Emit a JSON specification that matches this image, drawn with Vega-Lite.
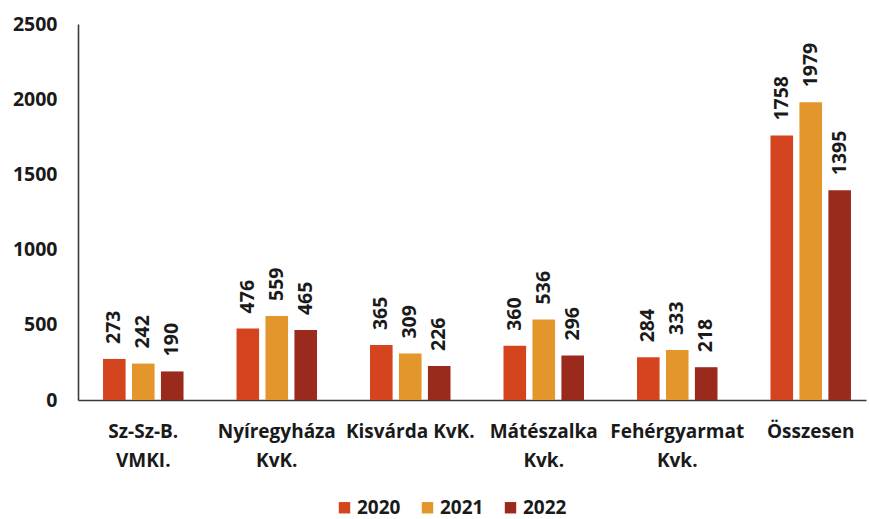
{
  "$schema": "https://vega.github.io/schema/vega-lite/v6.json",
  "width": 788,
  "height": 376,
  "autosize": {"type": "none"},
  "padding": {"left": 78, "top": 24, "right": 3, "bottom": 119},
  "background": "white",
  "config": {
    "view": {"stroke": null},
    "font": "Open Sans",
    "axis": {"grid": false, "ticks": false, "domainColor": "#3a3a3a", "domainWidth": 1.6, "labelFont": "Open Sans", "labelFontWeight": "bold", "labelFontSize": 19, "labelColor": "#1a1a1a", "title": null}
  },
  "data": {
    "values": [
      {"cat": "Sz-Sz-B.\nVMKI.", "year": "2020", "v": 273},
      {"cat": "Sz-Sz-B.\nVMKI.", "year": "2021", "v": 242},
      {"cat": "Sz-Sz-B.\nVMKI.", "year": "2022", "v": 190},
      {"cat": "Nyíregyháza\nKvK.", "year": "2020", "v": 476},
      {"cat": "Nyíregyháza\nKvK.", "year": "2021", "v": 559},
      {"cat": "Nyíregyháza\nKvK.", "year": "2022", "v": 465},
      {"cat": "Kisvárda KvK.", "year": "2020", "v": 365},
      {"cat": "Kisvárda KvK.", "year": "2021", "v": 309},
      {"cat": "Kisvárda KvK.", "year": "2022", "v": 226},
      {"cat": "Mátészalka\nKvk.", "year": "2020", "v": 360},
      {"cat": "Mátészalka\nKvk.", "year": "2021", "v": 536},
      {"cat": "Mátészalka\nKvk.", "year": "2022", "v": 296},
      {"cat": "Fehérgyarmat\nKvk.", "year": "2020", "v": 284},
      {"cat": "Fehérgyarmat\nKvk.", "year": "2021", "v": 333},
      {"cat": "Fehérgyarmat\nKvk.", "year": "2022", "v": 218},
      {"cat": "Összesen", "year": "2020", "v": 1758},
      {"cat": "Összesen", "year": "2021", "v": 1979},
      {"cat": "Összesen", "year": "2022", "v": 1395}
    ]
  },
  "encoding": {
    "x": {
      "field": "cat", "type": "nominal", "sort": null,
      "scale": {"paddingInner": 0.397, "paddingOuter": 0.15, "align": 0.625},
      "axis": {"labelAngle": 0, "labelPadding": 22, "labelLineHeight": 29, "labelExpr": "split(datum.label, '\\n')", "labelBaseline": "top"}
    },
    "xOffset": {"field": "year", "type": "nominal", "scale": {"paddingInner": 0.22, "paddingOuter": 0}},
    "y": {
      "field": "v", "type": "quantitative",
      "scale": {"domain": [0, 2500], "nice": false},
      "axis": {"values": [0, 500, 1000, 1500, 2000, 2500], "format": "d", "labelPadding": 21, "labelFontSize": 19.5}
    }
  },
  "layer": [
    {
      "mark": {"type": "bar"},
      "encoding": {
        "color": {
          "field": "year", "type": "nominal",
          "scale": {"domain": ["2020", "2021", "2022"], "range": ["#D4441F", "#E3962B", "#9A2A1C"]},
          "legend": {
            "orient": "none", "legendX": 257, "legendY": 474, "direction": "horizontal",
            "title": null, "symbolType": "square", "symbolSize": 130, "symbolStrokeWidth": 0,
            "labelFont": "Open Sans", "labelFontWeight": "bold", "labelFontSize": 19, "labelColor": "#1a1a1a",
            "labelOffset": 3, "columnPadding": 17
          }
        }
      }
    },
    {
      "mark": {"type": "text", "angle": 270, "align": "left", "baseline": "middle", "dx": 15, "font": "Open Sans", "fontWeight": "bold", "fontSize": 19.5, "color": "#1a1a1a"},
      "encoding": {"text": {"field": "v", "type": "quantitative"}}
    }
  ]
}
